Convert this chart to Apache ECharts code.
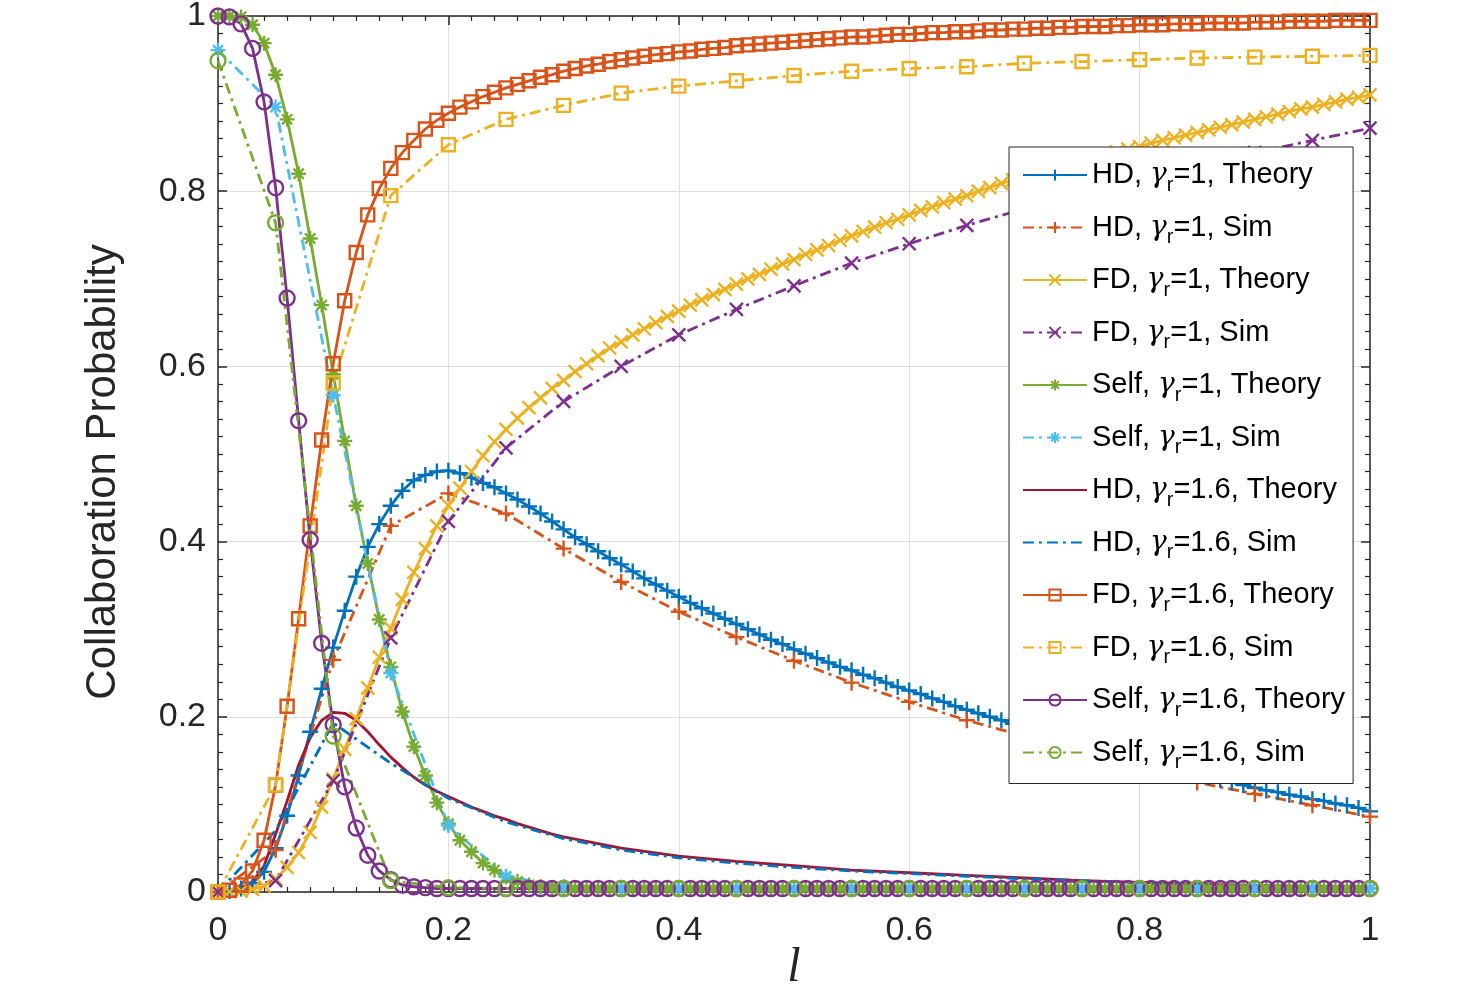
<!DOCTYPE html>
<html><head><meta charset="utf-8">
<script src="https://cdn.jsdelivr.net/npm/echarts@6/dist/echarts.min.js"></script>
<style>html,body{margin:0;padding:0;background:#fff}#c{width:1467px;height:996px}</style>
</head><body><div id="c"></div>
<script>
// ---- sampling grids (l values) ----
const lTheory = [
 0,0.01,0.02,0.03,0.04,0.05,0.06,0.07,0.08,0.09,
 0.10,0.11,0.12,0.13,0.14,0.15,0.16,0.17,0.18,0.19,
 0.20,0.21,0.22,0.23,0.24,0.25,0.26,0.27,0.28,0.29,
 0.30,0.31,0.32,0.33,0.34,0.35,0.36,0.37,0.38,0.39,
 0.40,0.41,0.42,0.43,0.44,0.45,0.46,0.47,0.48,0.49,
 0.50,0.51,0.52,0.53,0.54,0.55,0.56,0.57,0.58,0.59,
 0.60,0.61,0.62,0.63,0.64,0.65,0.66,0.67,0.68,0.69,
 0.70,0.71,0.72,0.73,0.74,0.75,0.76,0.77,0.78,0.79,
 0.80,0.81,0.82,0.83,0.84,0.85,0.86,0.87,0.88,0.89,
 0.90,0.91,0.92,0.93,0.94,0.95,0.96,0.97,0.98,0.99,
 1.00];
const lSim = [0,0.05,0.10,0.15,0.20,0.25,0.30,0.35,0.40,0.45,0.50,0.55,0.60,0.65,0.70,0.75,0.80,0.85,0.90,0.95,1.00];
const lHd16 = [
 0,0.01,0.02,0.03,0.04,0.05,0.06,0.07,0.08,0.09,
 0.10,0.11,0.12,0.13,0.14,0.15,0.16,0.17,0.18,0.19,
 0.20,0.21,0.22,0.23,0.24,0.25,0.26,0.27,0.28,0.29,
 0.30,0.35,0.40,0.45,0.50,0.55,0.60,0.65,0.70,0.75,0.80,0.85,0.90,0.95,1.00];

// ---- series values ----
const hd1Theory = [
 0.000,0.001,0.004,0.010,0.023,0.050,0.087,0.133,0.183,0.232,
 0.279,0.321,0.360,0.394,0.420,0.441,0.458,0.470,0.476,0.480,
 0.481,0.478,0.473,0.467,0.462,0.455,0.448,0.440,0.432,0.423,
 0.414,0.405,0.397,0.389,0.381,0.374,0.366,0.358,0.351,0.344,
 0.337,0.330,0.324,0.318,0.312,0.306,0.300,0.294,0.288,0.283,
 0.277,0.272,0.267,0.262,0.257,0.253,0.248,0.244,0.239,0.234,
 0.230,0.226,0.221,0.217,0.212,0.208,0.204,0.200,0.196,0.192,
 0.188,0.184,0.180,0.176,0.172,0.169,0.165,0.161,0.158,0.154,
 0.151,0.148,0.144,0.141,0.138,0.135,0.131,0.128,0.125,0.122,
 0.119,0.116,0.114,0.111,0.109,0.106,0.104,0.101,0.099,0.096,
 0.092];
const hd1Sim = [0,0.048,0.265,0.418,0.455,0.432,0.392,0.354,0.320,0.291,0.264,0.239,0.217,0.196,0.178,0.161,0.145,0.125,0.112,0.099,0.086];
const fd1Theory = [
 0.000,0.0003,0.001,0.003,0.007,0.015,0.028,0.045,0.068,0.097,
 0.129,0.163,0.198,0.233,0.268,0.301,0.334,0.365,0.392,0.418,
 0.441,0.461,0.480,0.498,0.514,0.528,0.541,0.553,0.564,0.575,
 0.584,0.594,0.603,0.612,0.621,0.628,0.636,0.643,0.650,0.657,
 0.663,0.670,0.676,0.682,0.688,0.694,0.700,0.705,0.711,0.717,
 0.722,0.728,0.733,0.738,0.744,0.749,0.754,0.759,0.764,0.768,
 0.773,0.778,0.782,0.787,0.791,0.795,0.800,0.804,0.809,0.813,
 0.817,0.820,0.824,0.828,0.831,0.835,0.838,0.842,0.845,0.848,
 0.851,0.855,0.858,0.861,0.864,0.867,0.870,0.873,0.876,0.879,
 0.882,0.885,0.888,0.891,0.894,0.896,0.899,0.902,0.905,0.907,
 0.910];
const fd1Sim = [0,0.013,0.127,0.290,0.423,0.507,0.560,0.600,0.636,0.665,0.692,0.718,0.740,0.761,0.780,0.797,0.814,0.829,0.844,0.858,0.872];
const self1Theory = [
 1.000,1.000,0.999,0.990,0.969,0.933,0.882,0.820,0.746,0.670,
 0.591,0.515,0.441,0.375,0.311,0.257,0.206,0.166,0.133,0.102,
 0.078,0.059,0.046,0.033,0.025,0.017,0.012,0.008,0.006,0.005,
 0.004,0.004,0.004,0.004,0.004,0.004,0.004,0.004,0.004,0.004,
 0.004,0.004,0.004,0.004,0.004,0.004,0.004,0.004,0.004,0.004,
 0.004,0.004,0.004,0.004,0.004,0.004,0.004,0.004,0.004,0.004,
 0.004,0.004,0.004,0.004,0.004,0.004,0.004,0.004,0.004,0.004,
 0.004,0.004,0.004,0.004,0.004,0.004,0.004,0.004,0.004,0.004,
 0.004,0.004,0.004,0.004,0.004,0.004,0.004,0.004,0.004,0.004,
 0.004,0.004,0.004,0.004,0.004,0.004,0.004,0.004,0.004,0.004,
 0.004];
const self1Sim = [0.961,0.896,0.567,0.250,0.076,0.018,0.006,0.004,0.004,0.004,0.004,0.004,0.004,0.004,0.004,0.004,0.004,0.004,0.004,0.004,0.004];
const hd16Theory = [
 0.000,0.001,0.004,0.012,0.030,0.066,0.104,0.145,0.176,0.196,
 0.205,0.204,0.196,0.183,0.168,0.154,0.142,0.131,0.122,0.115,
 0.109,0.103,0.097,0.092,0.087,0.083,0.078,0.074,0.070,0.066,
 0.063,0.050,0.041,0.035,0.030,0.025,0.022,0.019,0.016,0.013,0.011,0.009,0.0075,0.0063,0.0053];
const hd16Sim = [0,0.070,0.193,0.147,0.107,0.080,0.061,0.048,0.039,0.033,0.028,0.024,0.021,0.018,0.015,0.013,0.010,0.0085,0.007,0.006,0.005];
const fd16Theory = [
 0.000,0.002,0.008,0.024,0.059,0.122,0.212,0.312,0.418,0.516,
 0.603,0.675,0.730,0.773,0.803,0.826,0.844,0.858,0.871,0.881,
 0.889,0.896,0.902,0.908,0.913,0.918,0.922,0.926,0.930,0.933,
 0.937,0.940,0.943,0.945,0.948,0.950,0.952,0.954,0.956,0.957,
 0.959,0.960,0.962,0.963,0.964,0.966,0.967,0.968,0.969,0.970,
 0.971,0.972,0.973,0.974,0.975,0.976,0.976,0.977,0.978,0.979,
 0.979,0.980,0.981,0.981,0.982,0.982,0.983,0.984,0.984,0.985,
 0.985,0.986,0.986,0.987,0.987,0.988,0.988,0.988,0.989,0.989,
 0.990,0.990,0.990,0.991,0.991,0.991,0.992,0.992,0.992,0.992,
 0.993,0.993,0.993,0.994,0.994,0.994,0.994,0.995,0.995,0.995,
 0.995];
const fd16Sim = [0,0.122,0.581,0.795,0.853,0.882,0.898,0.912,0.920,0.926,0.932,0.937,0.940,0.942,0.946,0.948,0.950,0.952,0.953,0.954,0.955];
const self16Theory = [
 1.000,0.999,0.991,0.963,0.902,0.804,0.678,0.538,0.402,0.284,
 0.191,0.120,0.073,0.042,0.024,0.014,0.008,0.006,0.005,0.004,
 0.004,0.004,0.004,0.004,0.004,0.004,0.004,0.004,0.004,0.004,
 0.004,0.004,0.004,0.004,0.004,0.004,0.004,0.004,0.004,0.004,
 0.004,0.004,0.004,0.004,0.004,0.004,0.004,0.004,0.004,0.004,
 0.004,0.004,0.004,0.004,0.004,0.004,0.004,0.004,0.004,0.004,
 0.004,0.004,0.004,0.004,0.004,0.004,0.004,0.004,0.004,0.004,
 0.004,0.004,0.004,0.004,0.004,0.004,0.004,0.004,0.004,0.004,
 0.004,0.004,0.004,0.004,0.004,0.004,0.004,0.004,0.004,0.004,
 0.004,0.004,0.004,0.004,0.004,0.004,0.004,0.004,0.004,0.004,
 0.004];
const self16Sim = [0.949,0.764,0.178,0.013,0.005,0.004,0.004,0.004,0.004,0.004,0.004,0.004,0.004,0.004,0.004,0.004,0.004,0.004,0.004,0.004,0.004];

const xTicks = [0, 0.2, 0.4, 0.6, 0.8, 1];
const yTicks = [0, 0.2, 0.4, 0.6, 0.8, 1];

// ---- styling ----
const COL = {blue:'#0072BD', orange:'#D95319', yellow:'#EDB120', purple:'#7E2F8E', green:'#77AC30', cyan:'#4DBEEE', red:'#A2142F'};
const SYM = {
  plus: 'path://M5 0L5 10M0 5L10 5',
  cross: 'path://M0 0L10 10M0 10L10 0',
  star: 'path://M5 0L5 10M0 5L10 5M1.6 1.6L8.4 8.4M1.6 8.4L8.4 1.6',
  square: 'rect',
  circle: 'circle'
};
const SIMDASH = [11, 5, 3, 5];

function pairs(xs, ys) { const n = Math.min(xs.length, ys.length); const out = []; for (let i = 0; i < n; i++) out.push([xs[i], ys[i]]); return out; }
function mk(name, xs, ys, color, sim, sym, size) {
  return {
    name: name, type: 'line', data: pairs(xs, ys), clip: false,
    showSymbol: !!sym, showAllSymbol: true, symbol: sym ? SYM[sym] : 'circle', symbolSize: sym ? size : 0,
    lineStyle: {color: color, width: 2.8, type: sim ? SIMDASH : 'solid'},
    itemStyle: {color: 'rgba(255,255,255,0)', borderColor: sym ? color : 'rgba(255,255,255,0)', borderWidth: sym ? 2.4 : 0},
    emphasis: {disabled: true}, animation: false
  };
}

const series = [
  mk('HD, γ_r=1, Theory', lTheory, hd1Theory, COL.blue, false, 'plus', 16),
  mk('HD, γ_r=1, Sim', lSim, hd1Sim, COL.orange, true, 'plus', 16),
  mk('FD, γ_r=1, Theory', lTheory, fd1Theory, COL.yellow, false, 'cross', 13),
  mk('FD, γ_r=1, Sim', lSim, fd1Sim, COL.purple, true, 'cross', 13),
  mk('Self, γ_r=1, Theory', lTheory, self1Theory, COL.green, false, 'star', 15),
  mk('Self, γ_r=1, Sim', lSim, self1Sim, COL.cyan, true, 'star', 15),
  mk('HD, γ_r=1.6, Theory', lHd16, hd16Theory, COL.red, false, null),
  mk('HD, γ_r=1.6, Sim', lSim, hd16Sim, COL.blue, true, null),
  mk('FD, γ_r=1.6, Theory', lTheory, fd16Theory, COL.orange, false, 'square', 13),
  mk('FD, γ_r=1.6, Sim', lSim, fd16Sim, COL.yellow, true, 'square', 13),
  mk('Self, γ_r=1.6, Theory', lTheory, self16Theory, COL.purple, false, 'circle', 15),
  mk('Self, γ_r=1.6, Sim', lSim, self16Sim, COL.green, true, 'circle', 15)
];

const legendData = series.map(function (s) {
  if (s.symbolSize === 0) return {name: s.name, itemStyle: {color: 'rgba(255,255,255,0)', borderWidth: 0, opacity: 0}};
  return {name: s.name};
});

const AX = '#262626';
function axis(pos, showLabels, ticks, extra) {
  return Object.assign({
    type: 'value', position: pos, min: ticks[0], max: ticks[ticks.length - 1], interval: ticks[1] - ticks[0],
    nameMoveOverlap: false,
    axisLine: {show: true, onZero: false, lineStyle: {color: AX, width: 1.5}},
    axisTick: {show: true, inside: true, length: 9, lineStyle: {color: AX, width: 1.5}},
    minorTick: {show: true, splitNumber: 10, length: 5, lineStyle: {color: AX, width: 1.2}},
    splitLine: {show: showLabels, lineStyle: {color: '#dfdfdf', width: 1}},
    axisLabel: {show: showLabels, fontSize: 34, color: AX, fontFamily: 'Liberation Sans, Arial, sans-serif',
      margin: (pos === 'bottom') ? 22 : 12},
    axisPointer: {show: false}
  }, extra || {});
}

const chart = echarts.init(document.getElementById('c'), null, {renderer: 'canvas'});
chart.setOption({
  animation: false,
  backgroundColor: '#fff',
  textStyle: {fontFamily: 'Liberation Sans, Arial, sans-serif'},
  grid: {left: 218, right: 97, top: 16, bottom: 104, containLabel: false, outerBoundsMode: 'none'},
  xAxis: [
    axis('bottom', true, xTicks, {name: 'l', nameLocation: 'middle', nameGap: 52,
      nameTextStyle: {fontFamily: 'Liberation Serif, DejaVu Serif, serif', fontStyle: 'italic', fontSize: 48, color: AX}}),
    axis('top', false, xTicks)
  ],
  yAxis: [
    axis('left', true, yTicks, {name: 'Collaboration Probability', nameLocation: 'middle', nameGap: 94,
      nameTextStyle: {fontSize: 42, color: AX, fontFamily: 'Liberation Sans, Arial, sans-serif', padding: [0, 36, 0, 0]}}),
    axis('right', false, yTicks)
  ],
  legend: {
    data: legendData,
    orient: 'vertical', left: 1009, top: 147, padding: [8, 8, 11, 13], itemGap: 12.5,
    itemWidth: 64, itemHeight: 14, selectedMode: false,
    backgroundColor: '#fff', borderColor: AX, borderWidth: 1, borderRadius: 0,
    formatter: function (name) { return name.replace('γ_r', '{g|γ}{s|r}'); },
    textStyle: {fontFamily: 'Liberation Sans, Arial, sans-serif', fontSize: 29, color: '#000', lineHeight: 40,
      rich: {
        g: {fontFamily: 'DejaVu Serif, serif', fontStyle: 'italic', fontSize: 28, lineHeight: 40, color: '#000'},
        s: {fontFamily: 'Liberation Sans, Arial, sans-serif', fontSize: 20, lineHeight: 14, verticalAlign: 'bottom', color: '#000'}
      }}
  },
  tooltip: {show: false},
  series: series
});
</script></body></html>
